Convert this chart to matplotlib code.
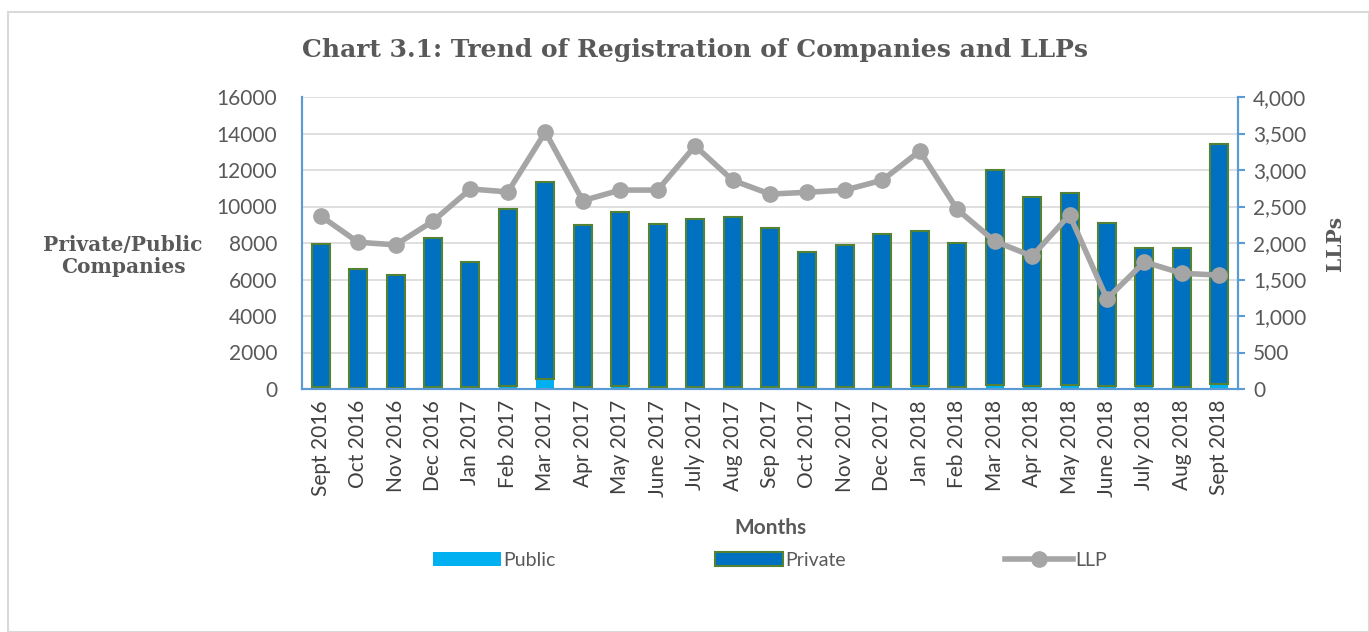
import matplotlib.pyplot as plt
import numpy as np
from matplotlib.patches import Rectangle

months = ["Sept 2016", "Oct 2016", "Nov 2016", "Dec 2016", "Jan 2017", "Feb 2017",
          "Mar 2017", "Apr 2017", "May 2017", "June 2017", "July 2017", "Aug 2017",
          "Sep 2017", "Oct 2017", "Nov 2017", "Dec 2017", "Jan 2018", "Feb 2018",
          "Mar 2018", "Apr 2018", "May 2018", "June 2018", "July 2018", "Aug 2018",
          "Sept 2018"]
public = [90, 80, 70, 130, 90, 140, 560, 110, 140, 120, 130, 130,
          110, 100, 110, 120, 140, 130, 230, 160, 230, 150, 140, 120, 250]
private = [7870, 6500, 6190, 8140, 6880, 9720, 10780, 8880, 9560, 8920, 9190, 9270,
           8710, 7420, 7780, 8370, 8520, 7880, 11770, 10360, 10510, 8950, 7590, 7610, 13170]
llp = [2370, 2010, 1975, 2300, 2740, 2700, 3520, 2580, 2725, 2725, 3330, 2860,
       2670, 2695, 2725, 2860, 3260, 2460, 2025, 1820, 2385, 1235, 1740, 1585, 1560]

plt.rcParams['font.family'] = ['Lato', 'DejaVu Sans']
grey_txt = '#595959'
blue_ax = '#5B9BD5'

fig = plt.figure(figsize=(13.69, 6.32), dpi=100)
fig.patches.append(Rectangle((8 / 1369, 0), 1 - 8 / 1369, 1 - 12 / 632, transform=fig.transFigure,
                             fill=False, edgecolor='#D9D9D9', linewidth=1.5))

ax = fig.add_axes([302 / 1369, 1 - 389 / 632, 936 / 1369, 292 / 632])
x = np.arange(len(months))
ax.bar(x, public, width=0.48, color='#00B0F0', label='Public', zorder=2)
ax.bar(x, private, width=0.48, bottom=public, color='#0070C0', edgecolor='#548235',
       linewidth=1.5, label='Private', zorder=2)
ax.set_ylim(0, 16000)
ax.set_xlim(-0.5, len(months) - 0.5)
ax.set_yticks(np.arange(0, 16001, 2000))
ax.yaxis.grid(True, color='#D9D9D9', linewidth=1.2, zorder=0)
ax.set_axisbelow(True)
ax.set_xticks(x)
ax.set_xticklabels(months, rotation=90, fontsize=15, color='#404040')
ax.tick_params(axis='y', length=0, labelsize=15, labelcolor=grey_txt, pad=18)
ax.tick_params(axis='x', length=0, pad=8)
ax.spines['top'].set_visible(False)
for s in ['left', 'bottom', 'right']:
    ax.spines[s].set_color(blue_ax)
    ax.spines[s].set_linewidth(1.5)

ax2 = ax.twinx()
ax2.plot(x, llp, color='#A5A5A5', linewidth=4, marker='o', markersize=11, label='LLP', zorder=3)
ax2.set_ylim(0, 4000)
ax2.set_yticks(np.arange(0, 4001, 500))
ax2.set_yticklabels([f"{v:,}" for v in range(0, 4001, 500)])
ax2.tick_params(axis='y', length=5, width=1.5, color=blue_ax, labelsize=15, labelcolor=grey_txt, pad=6)
ax2.spines['top'].set_visible(False)
for s in ['left', 'bottom', 'right']:
    ax2.spines[s].set_color(blue_ax)
    ax2.spines[s].set_linewidth(1.5)

fig.text(695 / 1369, 1 - 50 / 632, "Chart 3.1: Trend of Registration of Companies and LLPs",
         ha='center', va='center', fontsize=18, fontweight='bold', color=grey_txt,
         family='DejaVu Serif')
fig.text(123 / 1369, 1 - 256 / 632, "Private/Public\nCompanies", ha='center', va='center',
         fontsize=14.5, fontweight='bold', color=grey_txt, family='DejaVu Serif', linespacing=1.1)
fig.text(1335 / 1369, 1 - 243 / 632, "LLPs", ha='center', va='center', rotation=90,
         fontsize=14.5, fontweight='bold', color=grey_txt, family='DejaVu Serif')
fig.text(770 / 1369, 1 - 528 / 632, "Months", ha='center', va='center',
         fontsize=15, fontweight='bold', color=grey_txt)

h1, l1 = ax.get_legend_handles_labels()
h2, l2 = ax2.get_legend_handles_labels()
fig.legend(h1 + h2, l1 + l2, loc='center', bbox_to_anchor=(770 / 1369, 1 - 560 / 632), ncol=3,
           frameon=False, fontsize=14, columnspacing=8.2, handlelength=3.5, handletextpad=0.1,
           labelcolor=grey_txt)

fig.savefig('out.png', dpi=100)
